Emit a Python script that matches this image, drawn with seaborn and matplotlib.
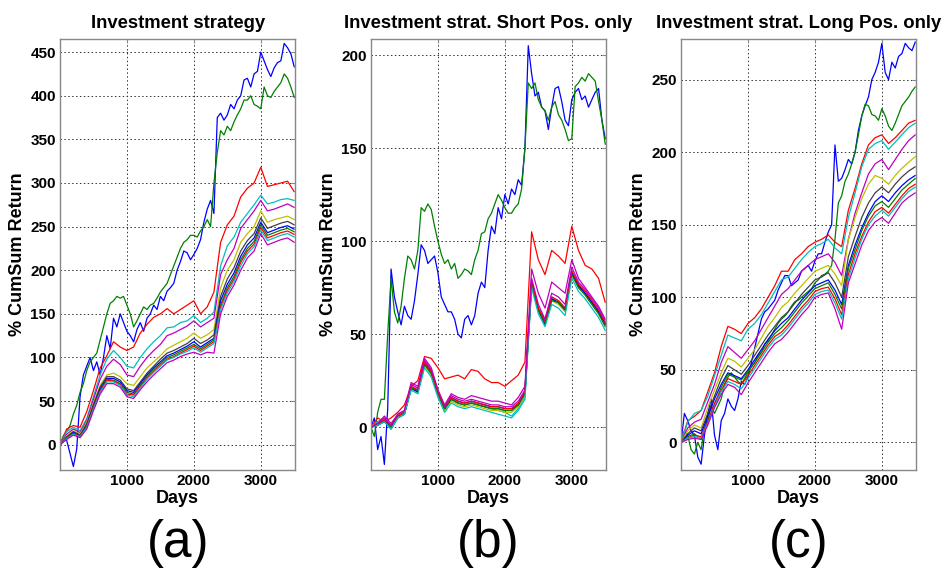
import pandas as pd
import matplotlib
matplotlib.use('Agg')
import matplotlib.pyplot as plt
import seaborn as sns

# sampling grids (days) for the values
DAYS = list(range(0, 3501, 100))
DAYS_FINE = list(range(0, 3501, 50))

# ---- panel (a): Investment strategy ----
a_blue = [0, 8, 5, -10, -25, -5, 55, 80, 90, 100, 85, 95, 80, 100, 125, 110, 145, 135, 150, 140,
          130, 125, 118, 132, 140, 130, 145, 150, 160, 155, 170, 165, 176, 180, 185, 200, 210, 222, 220, 212,
          218, 225, 235, 255, 270, 280, 265, 375, 380, 372, 378, 390, 385, 395, 400, 418, 420, 410, 425, 428,
          450, 440, 430, 422, 432, 438, 440, 460, 455, 448, 433]
a_green = [0, 10, 15, 22, 35, 45, 60, 70, 85, 95, 100, 105, 120, 135, 150, 162, 165, 170, 168, 170,
           160, 150, 135, 142, 150, 158, 155, 160, 162, 168, 175, 180, 185, 195, 205, 215, 225, 232, 235, 240,
           240, 238, 245, 250, 258, 250, 300, 335, 360, 355, 365, 360, 370, 378, 385, 395, 395, 400, 390, 388,
           385, 410, 400, 398, 405, 410, 415, 425, 420, 410, 398]
a_red = [0, 18, 22, 20, 38, 62, 88, 102, 118, 112, 108, 112, 128, 138, 146, 150, 156, 150, 155, 160, 165, 150, 158, 175, 232, 252, 262, 284, 294, 300, 318, 296, 298, 300, 302, 290]
a_cyan = [0, 15, 20, 16, 30, 55, 80, 98, 108, 100, 90, 88, 100, 110, 118, 125, 134, 135, 140, 142, 148, 140, 145, 152, 205, 228, 238, 255, 265, 275, 286, 276, 278, 281, 282, 280]
a_magenta = [0, 12, 18, 14, 28, 52, 75, 90, 98, 92, 80, 78, 90, 100, 108, 115, 125, 128, 132, 136, 142, 135, 140, 145, 195, 212, 225, 248, 258, 268, 280, 268, 270, 273, 276, 272]
a_yellow = [0, 10, 16, 12, 26, 48, 68, 80, 82, 78, 70, 68, 78, 88, 95, 102, 110, 114, 118, 122, 128, 122, 126, 132, 180, 200, 212, 232, 242, 250, 268, 255, 258, 260, 262, 258]
a_black = [0, 9, 15, 11, 24, 46, 66, 78, 78, 74, 64, 62, 72, 82, 90, 98, 105, 108, 112, 116, 122, 116, 120, 126, 170, 190, 203, 222, 234, 242, 260, 248, 251, 254, 256, 252]
a_blue2 = [0, 8, 14, 10, 22, 44, 64, 76, 76, 72, 62, 60, 70, 80, 88, 95, 102, 105, 109, 113, 118, 112, 117, 122, 165, 184, 197, 216, 229, 237, 255, 243, 246, 249, 251, 247]
a_green2 = [0, 8, 13, 10, 21, 43, 62, 75, 74, 70, 60, 58, 68, 78, 86, 93, 100, 103, 107, 111, 115, 110, 115, 120, 160, 180, 193, 212, 225, 233, 252, 240, 243, 246, 248, 244]
a_red2 = [0, 7, 13, 9, 20, 42, 61, 74, 73, 69, 58, 57, 67, 76, 84, 91, 98, 101, 105, 109, 113, 108, 113, 118, 158, 177, 190, 209, 222, 230, 249, 237, 240, 243, 245, 241]
a_cyan2 = [0, 7, 12, 9, 20, 41, 60, 72, 72, 68, 57, 55, 65, 75, 83, 90, 97, 100, 104, 107, 111, 106, 111, 116, 155, 174, 187, 205, 219, 227, 246, 234, 237, 240, 242, 238]
a_magenta2 = [0, 6, 11, 8, 18, 39, 58, 70, 70, 66, 55, 53, 63, 72, 80, 87, 94, 97, 101, 104, 106, 103, 106, 105, 150, 170, 183, 200, 214, 222, 242, 229, 232, 235, 237, 232]

# ---- panel (b): Short positions only ----
b_blue = [0, 5, -12, -5, -20, 10, 85, 70, 62, 55, 65, 60, 58, 68, 82, 98, 95, 88, 90, 92,
          83, 70, 66, 62, 62, 58, 50, 48, 58, 60, 55, 60, 72, 78, 75, 95, 108, 104, 118, 112,
          125, 120, 128, 125, 133, 130, 150, 205, 190, 178, 180, 172, 170, 160, 172, 182, 183, 175, 165, 162,
          176, 180, 182, 176, 178, 172, 176, 180, 182, 165, 155]
b_green = [0, -5, 8, 15, 15, 50, 80, 62, 56, 65, 80, 92, 90, 85, 95, 118, 116, 120, 117, 108,
           100, 93, 88, 90, 85, 88, 80, 82, 85, 84, 82, 90, 95, 104, 105, 112, 115, 120, 125, 122,
           118, 115, 115, 118, 120, 128, 150, 185, 182, 185, 176, 172, 170, 165, 172, 175, 168, 165, 160, 154,
           155, 183, 185, 188, 186, 190, 188, 186, 175, 165, 152]
b_red = [0, 5, 3, 5, 8, 12, 22, 25, 38, 37, 32, 26, 27, 28, 26, 31, 30, 26, 24, 24, 22, 25, 28, 35, 105, 90, 82, 95, 92, 88, 108, 95, 87, 85, 80, 67]
b_cyan = [0, 3, 5, 1, 6, 8, 22, 20, 34, 29, 18, 9, 15, 13, 12, 13, 12, 11, 10, 9, 8, 6, 10, 16, 78, 64, 58, 70, 68, 64, 84, 76, 72, 67, 62, 56]
b_magenta = [0, 2, 6, 2, 7, 9, 24, 22, 37, 32, 20, 12, 18, 16, 15, 17, 16, 15, 14, 14, 13, 12, 16, 22, 85, 72, 64, 78, 75, 72, 90, 80, 75, 70, 65, 58]
b_yellow = [0, 2, 4, 0, 5, 7, 20, 18, 33, 28, 17, 9, 14, 12, 11, 12, 11, 10, 9, 9, 8, 8, 11, 17, 76, 62, 56, 68, 66, 62, 82, 75, 71, 66, 61, 55]
b_black = [0, 1, 4, -1, 5, 7, 21, 19, 34, 29, 18, 10, 15, 13, 12, 13, 12, 11, 10, 10, 9, 9, 12, 18, 77, 63, 57, 69, 67, 63, 83, 76, 72, 67, 62, 56]
b_blue2 = [0, 1, 3, 0, 6, 8, 21, 19, 35, 30, 19, 10, 16, 14, 13, 14, 13, 12, 11, 11, 10, 10, 12, 19, 78, 63, 55, 69, 67, 63, 83, 76, 72, 67, 62, 55]
b_green2 = [0, 2, 3, 0, 5, 7, 21, 20, 34, 29, 18, 10, 15, 13, 12, 13, 12, 11, 10, 10, 9, 9, 12, 18, 77, 63, 56, 68, 67, 63, 82, 75, 71, 66, 61, 54]
b_red2 = [0, 2, 4, 1, 6, 8, 22, 20, 35, 30, 19, 11, 16, 14, 13, 14, 13, 12, 11, 11, 10, 10, 13, 19, 79, 64, 57, 70, 68, 64, 84, 77, 73, 68, 63, 56]
b_cyan2 = [0, 1, 3, -1, 5, 7, 20, 18, 32, 27, 16, 8, 13, 11, 10, 11, 10, 9, 8, 7, 6, 5, 9, 15, 75, 61, 54, 66, 64, 60, 80, 73, 69, 64, 59, 52]
b_magenta2 = [0, 2, 5, 1, 7, 9, 23, 21, 36, 31, 20, 11, 17, 15, 14, 15, 14, 13, 12, 12, 11, 11, 14, 20, 80, 66, 58, 72, 70, 66, 86, 78, 74, 69, 64, 57]

# ---- panel (c): Long positions only ----
c_blue = [0, 20, 15, 8, 5, -10, -15, 5, 20, 30, 5, -5, 15, 20, 30, 25, 22, 30, 42, 40,
          45, 55, 65, 75, 85, 90, 92, 95, 98, 105, 110, 115, 115, 108, 110, 112, 118, 120, 122, 118,
          125, 130, 130, 138, 145, 150, 205, 180, 182, 188, 195, 192, 200, 215, 225, 232, 238, 250, 255, 262,
          275, 255, 250, 262, 258, 266, 268, 275, 272, 270, 276]
c_green = [0, 8, 5, -5, -8, 0, -5, 10, 15, 25, 20, 25, 30, 40, 45, 48, 45, 42, 40, 44,
           48, 52, 55, 60, 62, 68, 70, 74, 78, 82, 85, 87, 90, 94, 97, 98, 100, 102, 104, 106,
           110, 112, 115, 116, 118, 122, 140, 165, 170, 180, 185, 192, 200, 212, 225, 233, 232, 226, 225, 222,
           230, 225, 218, 215, 220, 226, 232, 235, 238, 242, 245]
c_red = [0, 15, 18, 22, 35, 48, 66, 80, 78, 75, 82, 86, 92, 100, 108, 118, 118, 126, 130, 135, 138, 140, 143, 138, 135, 160, 175, 192, 205, 210, 212, 206, 210, 215, 220, 222]
c_cyan = [0, 14, 20, 22, 32, 46, 60, 74, 72, 70, 78, 82, 88, 96, 104, 112, 114, 120, 126, 131, 135, 137, 140, 134, 130, 155, 172, 190, 202, 206, 208, 202, 207, 212, 217, 220]
c_magenta = [0, 10, 14, 16, 28, 40, 55, 66, 62, 58, 64, 70, 78, 86, 94, 102, 106, 112, 118, 122, 126, 128, 130, 124, 115, 140, 158, 172, 185, 192, 195, 188, 195, 202, 208, 212]
c_yellow = [0, 8, 12, 10, 24, 36, 48, 58, 56, 52, 58, 64, 72, 80, 86, 93, 97, 103, 108, 113, 118, 120, 122, 116, 108, 140, 155, 168, 178, 184, 182, 178, 184, 189, 193, 197]
c_black = [0, 6, 10, 8, 20, 32, 44, 53, 50, 47, 53, 60, 67, 74, 80, 86, 90, 96, 102, 107, 112, 114, 117, 110, 100, 128, 142, 155, 165, 172, 176, 172, 178, 183, 187, 190]
c_blue2 = [0, 5, 8, 6, 18, 30, 40, 48, 46, 44, 50, 57, 64, 71, 77, 82, 86, 92, 98, 103, 108, 110, 112, 105, 95, 122, 136, 148, 158, 166, 170, 166, 172, 177, 181, 184]
c_green2 = [0, 4, 6, 2, 14, 26, 38, 47, 45, 43, 49, 55, 62, 69, 75, 79, 84, 90, 96, 101, 106, 108, 110, 102, 92, 120, 133, 146, 156, 163, 166, 162, 168, 174, 178, 182]
c_red2 = [0, 3, 5, 4, 14, 27, 36, 44, 42, 40, 46, 53, 60, 67, 73, 76, 81, 87, 93, 98, 104, 106, 107, 99, 88, 116, 130, 142, 152, 159, 162, 158, 164, 170, 175, 178]
c_cyan2 = [0, 3, 4, 3, 13, 25, 35, 42, 40, 37, 44, 51, 58, 65, 71, 74, 79, 85, 91, 96, 102, 104, 105, 96, 85, 113, 127, 140, 150, 156, 160, 156, 162, 168, 173, 176]
c_magenta2 = [0, 2, 3, 2, 12, 24, 33, 40, 38, 33, 41, 48, 55, 62, 68, 71, 76, 82, 88, 93, 100, 102, 103, 92, 78, 110, 123, 136, 146, 152, 155, 151, 158, 165, 169, 172]

# old MATLAB colour order, cycling
COLORS = ['#0000ff', '#008000', '#ff0000', '#00bfbf', '#bf00bf', '#bfbf00', '#404040',
          '#0000ff', '#008000', '#ff0000', '#00bfbf', '#bf00bf']


def long_frame(series):
    rows = []
    for i, vals in enumerate(series):
        days = DAYS_FINE if len(vals) == len(DAYS_FINE) else DAYS
        for d, v in zip(days, vals):
            rows.append({'Days': d, 'Return': v, 'series': i})
    return pd.DataFrame(rows)


sns.set_style('white')
plt.rcParams['font.family'] = ['Liberation Sans', 'DejaVu Sans']
plt.rcParams['font.weight'] = 'bold'
for key in ['text.color', 'axes.labelcolor', 'xtick.labelcolor', 'ytick.labelcolor']:
    plt.rcParams[key] = 'black'

fig = plt.figure(figsize=(9.43, 5.68), dpi=100)

panels = [
    ('Investment strategy', 0.0636, (-29, 465), range(0, 451, 50),
     [a_blue, a_green, a_red, a_cyan, a_magenta, a_yellow, a_black,
      a_blue2, a_green2, a_red2, a_cyan2, a_magenta2], '(a)'),
    ('Investment strat. Short Pos. only', 0.3934, (-23, 208.6), range(0, 201, 50),
     [b_blue, b_green, b_red, b_cyan, b_magenta, b_yellow, b_black,
      b_blue2, b_green2, b_red2, b_cyan2, b_magenta2], '(b)'),
    ('Investment strat. Long Pos. only', 0.7222, (-19, 278), range(0, 251, 50),
     [c_blue, c_green, c_red, c_cyan, c_magenta, c_yellow, c_black,
      c_blue2, c_green2, c_red2, c_cyan2, c_magenta2], '(c)'),
]

for title, left, ylim, yticks, series, tag in panels:
    ax = fig.add_axes([left, 0.1725, 0.2495, 0.7588])
    df = long_frame(series)
    sns.lineplot(data=df, x='Days', y='Return', hue='series', palette=COLORS,
                 legend=False, linewidth=0.9, estimator=None, ax=ax)
    ax.set_xlim(0, 3515)
    ax.set_ylim(*ylim)
    ax.set_xticks([1000, 2000, 3000])
    ax.set_yticks(list(yticks))
    ax.grid(True, color='#333333', linestyle=(0, (1.5, 2.5)), linewidth=0.7)
    for s in ax.spines.values():
        s.set_color('#888888')
        s.set_linewidth(1.0)
    ax.tick_params(direction='in', length=3, color='#888888', labelsize=11,
                   top=True, right=True, pad=3)
    ax.set_title(title, fontsize=13.3, fontweight='bold', pad=8)
    ax.set_xlabel('Days', fontsize=13, fontweight='bold', labelpad=1)
    ax.set_ylabel('% CumSum Return', fontsize=13, fontweight='bold', labelpad=3)
    fig.text(left + 0.1248, 0.044, tag, ha='center', va='center',
             fontsize=37, fontweight='normal')

plt.savefig('out.png', dpi=100)
